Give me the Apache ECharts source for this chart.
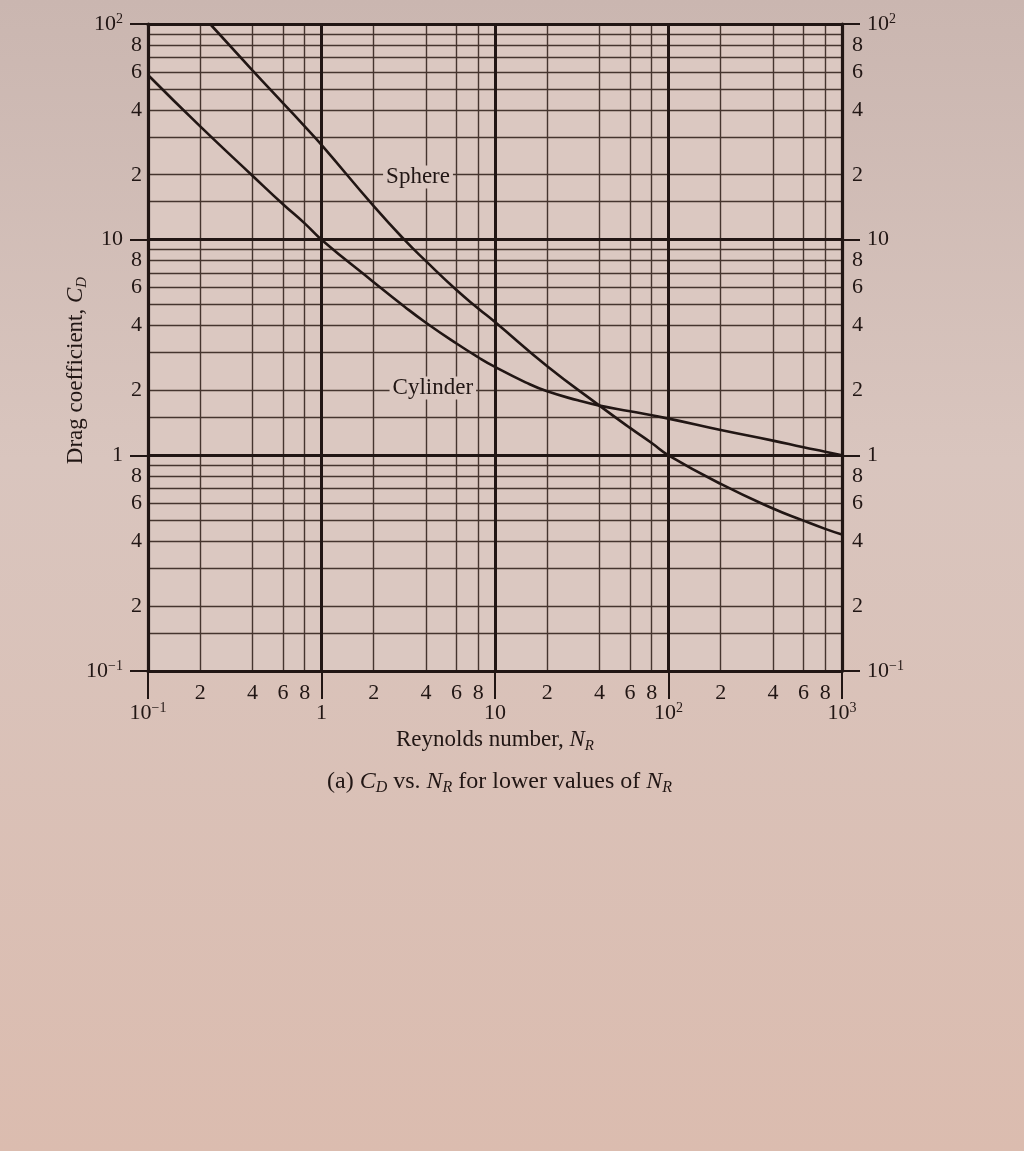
<!DOCTYPE html>
<html><head><meta charset="utf-8">
<script src="https://cdn.jsdelivr.net/npm/echarts@6/dist/echarts.min.js"></script>
<style>html,body{margin:0;padding:0;background:#d8c3bc}#c{width:1024px;height:1151px}</style>
</head><body><div id="c"></div>
<script>
// ---- data ----
const sphereRe = [0.228, 0.4, 0.6, 0.8, 1, 2, 3, 4, 6, 8, 10, 20, 40, 60, 80, 100, 200, 400, 600, 800, 1000];
const sphereCd = [100, 61, 43, 33.5, 27.5, 14.3, 10, 7.95, 5.84, 4.8, 4.15, 2.59, 1.7, 1.34, 1.14, 1.0, 0.737, 0.567, 0.498, 0.456, 0.429];
const cylinderRe = [0.1, 0.2, 0.4, 0.6, 0.8, 1, 2, 3, 4, 6, 8, 10, 15, 20, 30, 40, 60, 100, 200, 400, 600, 800, 1000];
const cylinderCd = [58, 33.5, 19.8, 14.6, 11.9, 10, 6.35, 4.9, 4.12, 3.3, 2.85, 2.57, 2.18, 1.98, 1.8, 1.7, 1.6, 1.48, 1.31, 1.17, 1.09, 1.04, 1.0];
const decadeTicksX = [0.1, 1, 10, 100, 1000];
const minorTicksX = [0.2, 0.4, 0.6, 0.8, 2, 4, 6, 8, 20, 40, 60, 80, 200, 400, 600, 800];
const decadeTicksY = [0.1, 1, 10, 100];
const minorLinesY = [0.15, 0.2, 0.3, 0.4, 0.5, 0.6, 0.7, 0.8, 0.9, 1.5, 2, 3, 4, 5, 6, 7, 8, 9, 15, 20, 30, 40, 50, 60, 70, 80, 90];
const minorLabelsY = [0.2, 0.4, 0.6, 0.8, 2, 4, 6, 8, 20, 40, 60, 80];
const noteNames = ['Sphere', 'Cylinder'];
const noteRe = [3.6, 4.38];
const noteCd = [19.5, 2.05];

// ---- styling ----
const ink = '#211614';
const inkMinor = '#45352f';
const paper = '#dbc8c1';
const serif = 'Liberation Serif, DejaVu Serif, serif';
const FS = 22;

function decadeLabel(v) {
  const e = Math.round(Math.log10(v));
  if (e === 0) return '1';
  if (e === 1) return '10';
  return '10{sup|' + (e < 0 ? '\u2212' + (-e) : e) + '}';
}
function minorLabel(v) {
  const p = Math.floor(Math.log10(v) + 1e-9);
  return String(Math.round(v / Math.pow(10, p)));
}
const richSup = { sup: { fontSize: 14, lineHeight: 12, verticalAlign: 'top', fontFamily: serif, color: ink } };
function richName(fs) {
  return {
    i: { fontStyle: 'italic', fontSize: fs, fontFamily: serif, color: ink, lineHeight: fs + 5 },
    sub: { fontStyle: 'italic', fontSize: Math.round(fs * 0.65), fontFamily: serif, color: ink, lineHeight: 14, verticalAlign: 'bottom' },
    gap: { width: 46, fontSize: fs }
  };
}

const zip = (a, b) => a.map((x, i) => [x, b[i]]);
function logAxis(extra) { return Object.assign({ type: 'log', logBase: 10 }, extra); }

const X0 = { min: 0.1, max: 1000, gridIndex: 0 };
const Y0 = { min: 0.1, max: 100, gridIndex: 0 };
const tickFont = { color: ink, fontFamily: serif, fontSize: FS };

const xAxis = [
  logAxis(Object.assign({}, X0, {
    position: 'bottom', z: 4,
    axisLine: { show: true, onZero: false, lineStyle: { color: ink, width: 3.2 } },
    axisTick: { show: true, customValues: decadeTicksX, length: 28, lineStyle: { color: ink, width: 2 } },
    axisLabel: Object.assign({ customValues: decadeTicksX, margin: 30, formatter: decadeLabel, lineHeight: 24, rich: richSup }, tickFont),
    splitLine: { show: true, lineStyle: { color: ink, width: 3 } },
    name: 'Reynolds number, {i|N}{sub|R}', nameLocation: 'middle', nameGap: 55, nameMoveOverlap: false,
    nameTextStyle: { color: ink, fontFamily: serif, fontSize: 23, lineHeight: 28, rich: richName(23) }
  })),
  logAxis(Object.assign({}, X0, {
    position: 'bottom', z: 2,
    axisLine: { show: false, onZero: false },
    axisTick: { show: false, customValues: minorTicksX },
    axisLabel: Object.assign({ customValues: minorTicksX, margin: 11, formatter: minorLabel }, tickFont),
    splitLine: { show: true, lineStyle: { color: inkMinor, width: 1.4 } }
  })),
  logAxis(Object.assign({}, X0, {
    position: 'top', z: 4,
    axisLine: { show: true, onZero: false, lineStyle: { color: ink, width: 3.2 } },
    axisTick: { show: false }, axisLabel: { show: false }, splitLine: { show: false }
  }))
];

const yAxis = [
  logAxis(Object.assign({}, Y0, {
    position: 'left', z: 4,
    axisLine: { show: true, onZero: false, lineStyle: { color: ink, width: 3.2 } },
    axisTick: { show: true, customValues: decadeTicksY, length: 18, lineStyle: { color: ink, width: 2 } },
    axisLabel: Object.assign({ customValues: decadeTicksY, margin: 25, formatter: decadeLabel, lineHeight: 24, rich: richSup }, tickFont),
    splitLine: { show: true, lineStyle: { color: ink, width: 3 } },
    name: 'Drag coefficient, {i|C}{sub|D}{gap|}', nameLocation: 'middle', nameGap: 58, nameMoveOverlap: false,
    nameTextStyle: { color: ink, fontFamily: serif, fontSize: 23, lineHeight: 28, rich: richName(23) }
  })),
  logAxis(Object.assign({}, Y0, {
    position: 'left', z: 2,
    axisLine: { show: false, onZero: false },
    axisTick: { show: false, customValues: minorLinesY },
    axisLabel: Object.assign({ customValues: minorLabelsY, margin: 6, formatter: minorLabel }, tickFont),
    splitLine: { show: true, lineStyle: { color: inkMinor, width: 1.4 } }
  })),
  logAxis(Object.assign({}, Y0, {
    position: 'right', z: 4,
    axisLine: { show: true, onZero: false, lineStyle: { color: ink, width: 3.2 } },
    axisTick: { show: true, customValues: decadeTicksY, length: 18, lineStyle: { color: ink, width: 2 } },
    axisLabel: Object.assign({ customValues: decadeTicksY, margin: 25, formatter: decadeLabel, lineHeight: 24, rich: richSup }, tickFont),
    splitLine: { show: false }
  })),
  logAxis(Object.assign({}, Y0, {
    position: 'right', z: 2,
    axisLine: { show: false, onZero: false },
    axisTick: { show: false, customValues: minorLabelsY },
    axisLabel: Object.assign({ customValues: minorLabelsY, margin: 10, formatter: minorLabel }, tickFont),
    splitLine: { show: false }
  }))
];

const option = {
  animation: false,
  backgroundColor: { type: 'linear', x: 0, y: 0, x2: 0, y2: 1,
    colorStops: [ { offset: 0, color: '#cab6b0' }, { offset: 0.4, color: '#d9c5be' }, { offset: 1, color: '#dbbcaf' } ] },
  title: {
    text: '(a) {i|C}{sub|D} vs. {i|N}{sub|R} for lower values of {i|N}{sub|R}',
    left: 322, top: 762,
    textStyle: { color: ink, fontFamily: serif, fontSize: 24, fontWeight: 'normal', lineHeight: 29, rich: richName(24) }
  },
  grid: { left: 148, right: 182, top: 24, bottom: 480, show: true, backgroundColor: paper, borderWidth: 0 },
  xAxis: xAxis,
  yAxis: yAxis,
  series: [
    { name: 'Sphere', type: 'line', xAxisIndex: 0, yAxisIndex: 0, data: zip(sphereRe, sphereCd),
      smooth: 0.5, symbol: 'none', z: 6, lineStyle: { color: ink, width: 2.6 } },
    { name: 'Cylinder', type: 'line', xAxisIndex: 0, yAxisIndex: 0, data: zip(cylinderRe, cylinderCd),
      smooth: 0.5, symbol: 'none', z: 6, lineStyle: { color: ink, width: 2.6 } },
    { name: 'notes', type: 'scatter', xAxisIndex: 0, yAxisIndex: 0, symbolSize: 0, z: 7,
      itemStyle: { opacity: 1 },
      data: noteNames.map((n, i) => ({ name: n, value: [noteRe[i], noteCd[i]] })),
      label: { show: true, position: 'inside', formatter: p => p.name, color: ink, opacity: 1,
        fontFamily: serif, fontSize: 23, textBorderWidth: 0, backgroundColor: paper, padding: [0, 3] } }
  ]
};

const chart = echarts.init(document.getElementById('c'), null, { renderer: 'canvas' });
chart.setOption(option);
</script>
</body></html>
